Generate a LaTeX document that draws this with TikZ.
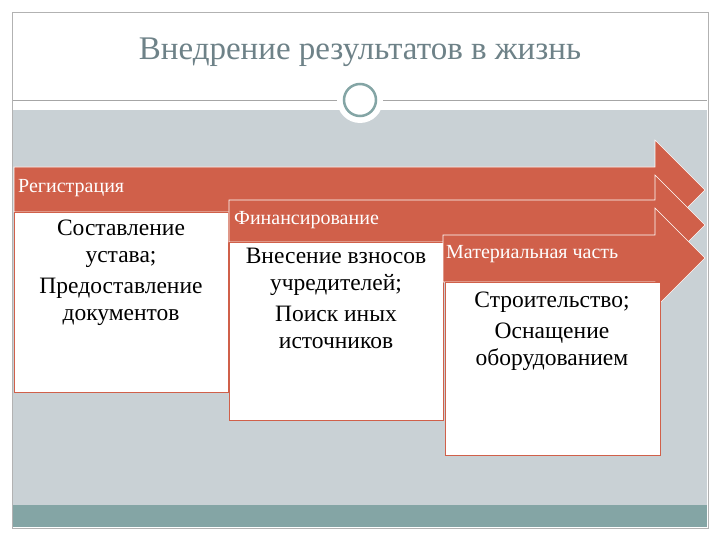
\documentclass[tikz,border=0pt]{standalone}
\usepackage{fontspec}
\setmainfont{Liberation Serif}
\definecolor{org}{HTML}{D0604A}
\definecolor{bg}{HTML}{C9D1D5}
\definecolor{teal}{HTML}{84A5A5}
\definecolor{ttl}{HTML}{6E8288}
\begin{document}
\begin{tikzpicture}[x=1pt,y=-1pt,
  arr/.style={fill=org,draw=white,line width=0.6pt},
  wbox/.style={fill=white,draw=org,line width=0.6pt},
  hdr/.style={text=white,font=\fontsize{20}{22}\selectfont,anchor=west,inner sep=0pt},
  body/.style={font=\fontsize{23.5}{27}\selectfont,align=center,inner sep=0pt,anchor=north}]
\useasboundingbox (0,0) rectangle (720,540);
\fill[white] (0,0) rectangle (720,540);
\draw[gray!60] (12,12) rectangle (708,528);
\fill[bg] (13,110) rectangle (707,505);
\fill[teal] (13,505) rectangle (707,527);
\draw[gray!70] (13,100) -- (707,100);
\node[font=\fontsize{33}{36}\selectfont,text=ttl] (title) at (360,52) {Внедрение результатов в жизнь};
\node[circle,fill=white,minimum size=46pt,inner sep=0pt] (c0) at (360,100) {};
\node[circle,draw=teal,line width=2.5pt,minimum size=32pt,inner sep=0pt] (c1) at (360,100) {};
% arrow 1
\draw[arr] (14,167) -- (655,167) -- (655,140) -- (705,190) -- (655,240) -- (655,212) -- (14,212) -- cycle;
\node[hdr] (h1) at (18,188) {Регистрация};
\draw[wbox] (14,212) rectangle (228,392);
\node[body] (b1) at (121,220) {Составление\\устава;\\[4pt]Предоставление\\документов};
% arrow 2
\draw[arr] (229,200) -- (655,200) -- (655,175) -- (705,225) -- (655,275) -- (655,242) -- (229,242) -- cycle;
\node[hdr] (h2) at (234,220) {Финансирование};
\draw[wbox] (229,242) rectangle (443,420);
\node[body] (b2) at (336,248) {Внесение взносов\\учредителей;\\[4pt]Поиск иных\\источников};
% arrow 3
\draw[arr] (443,235) -- (655,235) -- (655,208) -- (705,258) -- (655,308) -- (655,282) -- (443,282) -- cycle;
\node[hdr] (h3) at (446,254) {Материальная часть};
\draw[wbox] (445,282) rectangle (660,455);
\node[body] (b3) at (552,292) {Строительство;\\[4pt]Оснащение\\оборудованием};
\end{tikzpicture}
\end{document}
